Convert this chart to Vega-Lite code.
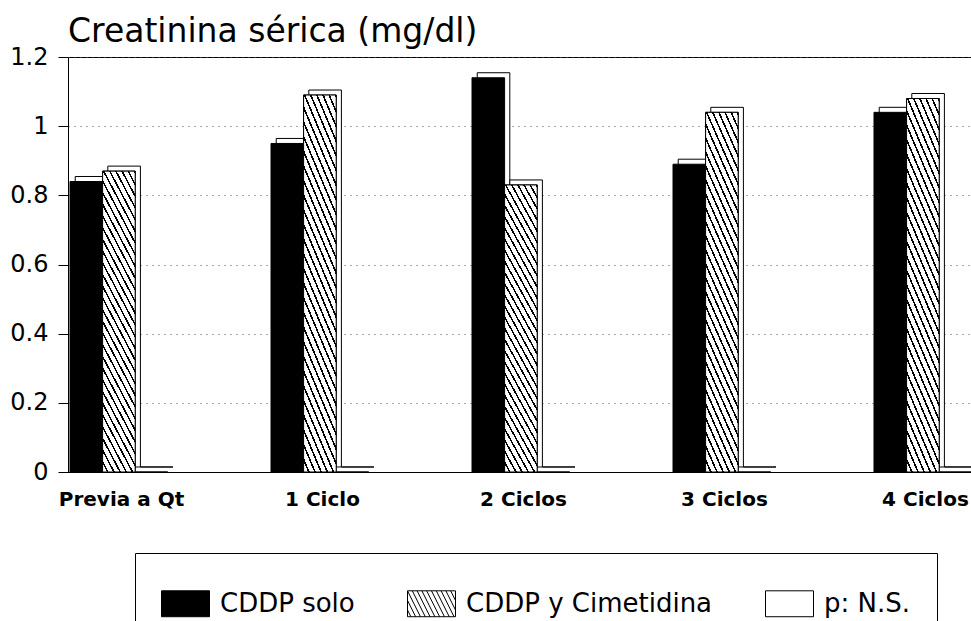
{
  "$schema": "https://vega.github.io/schema/vega-lite/v6.json",
  "autosize": {"type": "none"},
  "padding": {"left": 68, "top": 57, "right": 0, "bottom": 149},
  "width": 903,
  "height": 415,
  "background": "white",
  "title": {"text": "Creatinina sérica (mg/dl)", "anchor": "start", "frame": "group", "font": "DejaVu Sans", "fontSize": 33, "fontWeight": "normal", "color": "black", "baseline": "bottom", "offset": 5, "dy": 42},
  "config": {
    "view": {"stroke": "black", "strokeWidth": 1},
    "axis": {"domainColor": "black", "tickColor": "black", "labelColor": "black"}
  },
  "data": {"values": [
    {"ciclo": "Previa a Qt", "serie": "CDDP solo", "valor": 0.84},
    {"ciclo": "Previa a Qt", "serie": "CDDP y Cimetidina", "valor": 0.87},
    {"ciclo": "Previa a Qt", "serie": "p: N.S.", "valor": 0},
    {"ciclo": "1 Ciclo", "serie": "CDDP solo", "valor": 0.95},
    {"ciclo": "1 Ciclo", "serie": "CDDP y Cimetidina", "valor": 1.09},
    {"ciclo": "1 Ciclo", "serie": "p: N.S.", "valor": 0},
    {"ciclo": "2 Ciclos", "serie": "CDDP solo", "valor": 1.14},
    {"ciclo": "2 Ciclos", "serie": "CDDP y Cimetidina", "valor": 0.83},
    {"ciclo": "2 Ciclos", "serie": "p: N.S.", "valor": 0},
    {"ciclo": "3 Ciclos", "serie": "CDDP solo", "valor": 0.89},
    {"ciclo": "3 Ciclos", "serie": "CDDP y Cimetidina", "valor": 1.04},
    {"ciclo": "3 Ciclos", "serie": "p: N.S.", "valor": 0},
    {"ciclo": "4 Ciclos", "serie": "CDDP solo", "valor": 1.04},
    {"ciclo": "4 Ciclos", "serie": "CDDP y Cimetidina", "valor": 1.08},
    {"ciclo": "4 Ciclos", "serie": "p: N.S.", "valor": 0}
  ]},
  "encoding": {
    "x": {"field": "ciclo", "type": "nominal", "sort": ["Previa a Qt", "1 Ciclo", "2 Ciclos", "3 Ciclos", "4 Ciclos"],
      "scale": {"range": [0, 911], "paddingInner": 0.4876, "paddingOuter": 0.01},
      "axis": {"title": null, "labelAngle": 0, "ticks": false, "tickSize": 0, "grid": false, "labelPadding": 17, "labelFont": "DejaVu Sans", "labelFontWeight": "bold", "labelFontSize": 20, "domainColor": "black", "domainWidth": 1}}
  },
  "resolve": {"scale": {"xOffset": "independent", "y": "independent"}},
  "layer": [
    {
      "mark": {"type": "bar", "fill": "white", "stroke": "black", "strokeWidth": 1},
      "encoding": {
        "xOffset": {"field": "serie", "type": "nominal", "scale": {"domain": ["CDDP solo", "CDDP y Cimetidina", "p: N.S."], "paddingInner": 0, "paddingOuter": 0.08, "align": 1}},
        "y": {"field": "valor", "type": "quantitative", "scale": {"domain": [-0.0145, 1.1855], "nice": false, "zero": false}, "axis": null}
      }
    },
    {
      "mark": {"type": "bar", "stroke": "black", "strokeWidth": 1},
      "encoding": {
        "xOffset": {"field": "serie", "type": "nominal", "scale": {"domain": ["CDDP solo", "CDDP y Cimetidina", "p: N.S."], "paddingInner": 0, "paddingOuter": 0.08, "align": 0}},
        "y": {"field": "valor", "type": "quantitative", "scale": {"domain": [0, 1.2], "nice": false},
          "axis": {"orient": "left", "title": null, "values": [0, 0.2, 0.4, 0.6, 0.8, 1, 1.2], "format": "~g", "tickSize": 10, "labelPadding": 10, "labelFont": "DejaVu Sans", "labelFontSize": 24, "grid": true, "gridColor": "#555", "gridDash": [1, 5], "gridWidth": 1, "domainColor": "black"}},
        "fill": {"field": "serie", "type": "nominal",
          "scale": {"domain": ["CDDP solo", "CDDP y Cimetidina", "p: N.S."], "range": ["black", "white", "white"]},
          "legend": {
            "title": null, "orient": "none", "legendX": 67, "legendY": 496, "direction": "horizontal",
            "strokeColor": "black", "padding": 26, "columnPadding": 50, "labelOffset": 10,
            "symbolType": "M-1,-0.54H1V0.54H-1Z", "symbolSize": 2304, "symbolStrokeColor": "black", "symbolStrokeWidth": 1, "symbolOpacity": 1,
            "labelFont": "DejaVu Sans", "labelFontSize": 26, "labelColor": "black", "labelLimit": 500
          }}
      }
    },
    {
      "transform": [{"filter": "datum.serie === 'CDDP y Cimetidina'"}],
      "mark": {"type": "bar", "stroke": "black", "strokeWidth": 1,
        "fill": {"gradient": "linear", "x1": 0, "y1": 1, "x2": 0.2386, "y2": -0.157, "stops": [
          {"offset": 0, "color": "white"}, {"offset": 0.0232, "color": "white"}, {"offset": 0.0232, "color": "black"}, {"offset": 0.0323, "color": "black"},
          {"offset": 0.0323, "color": "white"}, {"offset": 0.0555, "color": "white"}, {"offset": 0.0555, "color": "black"}, {"offset": 0.0645, "color": "black"},
          {"offset": 0.0645, "color": "white"}, {"offset": 0.0877, "color": "white"}, {"offset": 0.0877, "color": "black"}, {"offset": 0.0968, "color": "black"},
          {"offset": 0.0968, "color": "white"}, {"offset": 0.12, "color": "white"}, {"offset": 0.12, "color": "black"}, {"offset": 0.129, "color": "black"},
          {"offset": 0.129, "color": "white"}, {"offset": 0.1523, "color": "white"}, {"offset": 0.1523, "color": "black"}, {"offset": 0.1613, "color": "black"},
          {"offset": 0.1613, "color": "white"}, {"offset": 0.1845, "color": "white"}, {"offset": 0.1845, "color": "black"}, {"offset": 0.1935, "color": "black"},
          {"offset": 0.1935, "color": "white"}, {"offset": 0.2168, "color": "white"}, {"offset": 0.2168, "color": "black"}, {"offset": 0.2258, "color": "black"},
          {"offset": 0.2258, "color": "white"}, {"offset": 0.249, "color": "white"}, {"offset": 0.249, "color": "black"}, {"offset": 0.2581, "color": "black"},
          {"offset": 0.2581, "color": "white"}, {"offset": 0.2813, "color": "white"}, {"offset": 0.2813, "color": "black"}, {"offset": 0.2903, "color": "black"},
          {"offset": 0.2903, "color": "white"}, {"offset": 0.3135, "color": "white"}, {"offset": 0.3135, "color": "black"}, {"offset": 0.3226, "color": "black"},
          {"offset": 0.3226, "color": "white"}, {"offset": 0.3458, "color": "white"}, {"offset": 0.3458, "color": "black"}, {"offset": 0.3548, "color": "black"},
          {"offset": 0.3548, "color": "white"}, {"offset": 0.3781, "color": "white"}, {"offset": 0.3781, "color": "black"}, {"offset": 0.3871, "color": "black"},
          {"offset": 0.3871, "color": "white"}, {"offset": 0.4103, "color": "white"}, {"offset": 0.4103, "color": "black"}, {"offset": 0.4194, "color": "black"},
          {"offset": 0.4194, "color": "white"}, {"offset": 0.4426, "color": "white"}, {"offset": 0.4426, "color": "black"}, {"offset": 0.4516, "color": "black"},
          {"offset": 0.4516, "color": "white"}, {"offset": 0.4748, "color": "white"}, {"offset": 0.4748, "color": "black"}, {"offset": 0.4839, "color": "black"},
          {"offset": 0.4839, "color": "white"}, {"offset": 0.5071, "color": "white"}, {"offset": 0.5071, "color": "black"}, {"offset": 0.5161, "color": "black"},
          {"offset": 0.5161, "color": "white"}, {"offset": 0.5394, "color": "white"}, {"offset": 0.5394, "color": "black"}, {"offset": 0.5484, "color": "black"},
          {"offset": 0.5484, "color": "white"}, {"offset": 0.5716, "color": "white"}, {"offset": 0.5716, "color": "black"}, {"offset": 0.5806, "color": "black"},
          {"offset": 0.5806, "color": "white"}, {"offset": 0.6039, "color": "white"}, {"offset": 0.6039, "color": "black"}, {"offset": 0.6129, "color": "black"},
          {"offset": 0.6129, "color": "white"}, {"offset": 0.6361, "color": "white"}, {"offset": 0.6361, "color": "black"}, {"offset": 0.6452, "color": "black"},
          {"offset": 0.6452, "color": "white"}, {"offset": 0.6684, "color": "white"}, {"offset": 0.6684, "color": "black"}, {"offset": 0.6774, "color": "black"},
          {"offset": 0.6774, "color": "white"}, {"offset": 0.7006, "color": "white"}, {"offset": 0.7006, "color": "black"}, {"offset": 0.7097, "color": "black"},
          {"offset": 0.7097, "color": "white"}, {"offset": 0.7329, "color": "white"}, {"offset": 0.7329, "color": "black"}, {"offset": 0.7419, "color": "black"},
          {"offset": 0.7419, "color": "white"}, {"offset": 0.7652, "color": "white"}, {"offset": 0.7652, "color": "black"}, {"offset": 0.7742, "color": "black"},
          {"offset": 0.7742, "color": "white"}, {"offset": 0.7974, "color": "white"}, {"offset": 0.7974, "color": "black"}, {"offset": 0.8065, "color": "black"},
          {"offset": 0.8065, "color": "white"}, {"offset": 0.8297, "color": "white"}, {"offset": 0.8297, "color": "black"}, {"offset": 0.8387, "color": "black"},
          {"offset": 0.8387, "color": "white"}, {"offset": 0.8619, "color": "white"}, {"offset": 0.8619, "color": "black"}, {"offset": 0.871, "color": "black"},
          {"offset": 0.871, "color": "white"}, {"offset": 0.8942, "color": "white"}, {"offset": 0.8942, "color": "black"}, {"offset": 0.9032, "color": "black"},
          {"offset": 0.9032, "color": "white"}, {"offset": 0.9265, "color": "white"}, {"offset": 0.9265, "color": "black"}, {"offset": 0.9355, "color": "black"},
          {"offset": 0.9355, "color": "white"}, {"offset": 0.9587, "color": "white"}, {"offset": 0.9587, "color": "black"}, {"offset": 0.9677, "color": "black"},
          {"offset": 0.9677, "color": "white"}, {"offset": 0.991, "color": "white"}, {"offset": 0.991, "color": "black"}, {"offset": 1, "color": "black"}
        ]}},
      "encoding": {
        "xOffset": {"field": "serie", "type": "nominal", "scale": {"domain": ["CDDP solo", "CDDP y Cimetidina", "p: N.S."], "paddingInner": 0, "paddingOuter": 0.08, "align": 0}},
        "y": {"field": "valor", "type": "quantitative", "scale": {"domain": [0, 1.2], "nice": false}, "axis": null}
      }
    },
    {
      "transform": [{"filter": "false"}],
      "mark": {"type": "point", "filled": true, "opacity": 1, "stroke": "black", "strokeWidth": 1},
      "encoding": {
        "shape": {"field": "serie", "type": "nominal",
          "scale": {"domain": ["CDDP solo", "CDDP y Cimetidina", "p: N.S."],
            "range": ["M-1,-0.54H1V0.54H-1Z", "M-1,-0.54H1V0.54H-1Z M-1,0.26L-0.86,0.54 M-1,-0.14L-0.66,0.54 M-1,-0.54L-0.46,0.54 M-0.8,-0.54L-0.26,0.54 M-0.6,-0.54L-0.06,0.54 M-0.4,-0.54L0.14,0.54 M-0.2,-0.54L0.34,0.54 M0,-0.54L0.54,0.54 M0.2,-0.54L0.74,0.54 M0.4,-0.54L0.94,0.54 M0.6,-0.54L1,0.26 M0.8,-0.54L1,-0.14", "M-1,-0.54H1V0.54H-1Z"]}}
      }
    }
  ]
}
